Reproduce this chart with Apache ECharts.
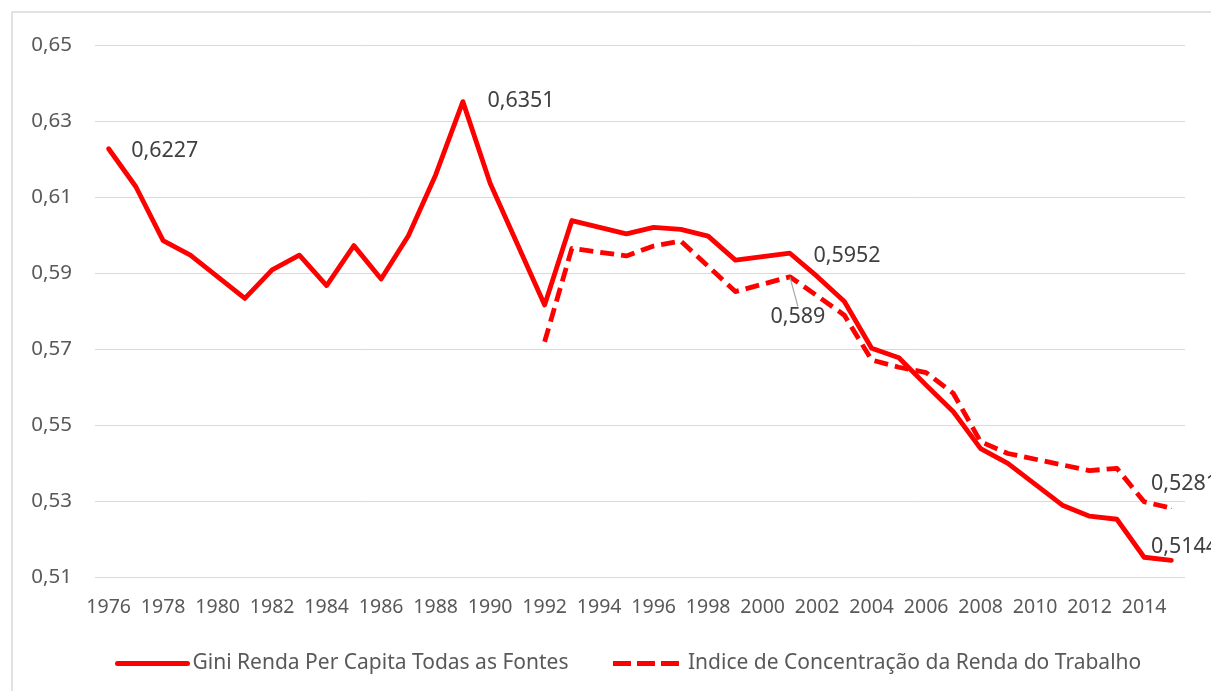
<!DOCTYPE html>
<html>
<head>
<meta charset="utf-8">
<script src="https://cdn.jsdelivr.net/npm/echarts@6/dist/echarts.min.js"></script>
<style>
  html, body { margin: 0; padding: 0; background: #fff; }
  #chart { width: 1211px; height: 691px; }
</style>
</head>
<body>
<div id="chart"></div>
<script>
// anos 1976-2015 (null = ano sem PNAD)
var years = [];
for (var y = 1976; y <= 2015; y++) years.push(String(y));

var giniRenda = [
  0.6227, 0.6127, 0.5985, 0.5947, null, 0.5833, 0.5908, 0.5947, 0.5867, 0.5972,
  0.5884, 0.5998, 0.6158, 0.6351, 0.6136, null, 0.5816, 0.6038, null, 0.6003,
  0.6020, 0.6015, 0.5997, 0.5934, null, 0.5952, 0.5891, 0.5825, 0.5702, 0.5677,
  0.5605, 0.5535, 0.5438, 0.5399, null, 0.5289, 0.5260, 0.5252, 0.5152, 0.5144
];
var indiceTrabalho = [
  null, null, null, null, null, null, null, null, null, null,
  null, null, null, null, null, null, 0.5719, 0.5965, null, 0.5945,
  0.5971, 0.5984, 0.5918, 0.5851, null, 0.5890, 0.5840, 0.5789, 0.5671, 0.5652,
  0.5638, 0.5583, 0.5456, 0.5425, null, 0.5395, 0.5380, 0.5386, 0.5298, 0.5281
];
var yTicks = { min: 0.51, max: 0.65, step: 0.02 };

// pontos com rotulo: [serie, indice]
var labeled = [[0, 0], [0, 13], [0, 25], [0, 39], [1, 25], [1, 39]];
// deslocamento dos rotulos (labelLayout)
var shifts = {
  '0-0': [17, 2], '0-13': [19, -1], '0-25': [18, 3], '0-39': [-26, -13],
  '1-25': [8, 24], '1-39': [-26, -24]
};

function fmt(v) { return String(v).replace('.', ','); }

function buildData(values, s) {
  return values.map(function (v, i) {
    var has = labeled.some(function (l) { return l[0] === s && l[1] === i; });
    if (!has || v === null) return v;
    var item = {
      value: v,
      symbol: 'circle',
      symbolSize: 1,
      label: { show: true, position: s === 1 && i === 25 ? 'bottom' : 'right' }
    };
    if (s === 1 && i === 25) {
      item.labelLine = { show: true, lineStyle: { color: '#a6a6a6', width: 1.2 } };
    }
    return item;
  });
}

var myChart = echarts.init(document.getElementById('chart'));

var txt = '#595959';
var font = 'Noto Sans';

option = {
  backgroundColor: '#fff',
  animation: false,
  graphic: [{
    type: 'rect',
    shape: { x: 12, y: 12, width: 1260, height: 720 },
    style: { fill: 'none', stroke: '#d9d9d9', lineWidth: 1.5 },
    z: -1,
    silent: true
  }],
  grid: { left: 95, right: 26, top: 45, bottom: 114, containLabel: false },
  legend: {
    bottom: 12,
    left: 110,
    itemWidth: 70,
    itemHeight: 10,
    itemGap: 42,
    itemStyle: { opacity: 0 },
    textStyle: { color: txt, fontSize: 21, fontFamily: font },
    data: [
      { name: 'Gini Renda Per Capita Todas as Fontes',
        lineStyle: { width: 5, cap: 'round' } },
      { name: 'Indice de Concentração da Renda do Trabalho',
        lineStyle: { width: 5, type: [18, 6] } }
    ]
  },
  xAxis: {
    type: 'category',
    data: years,
    boundaryGap: true,
    axisLine: { show: false },
    axisTick: { show: false },
    axisLabel: { interval: 1, color: txt, fontSize: 19.5, fontFamily: font, margin: 20 }
  },
  yAxis: {
    type: 'value',
    min: yTicks.min,
    max: yTicks.max,
    interval: yTicks.step,
    axisLine: { show: false },
    axisTick: { show: false },
    axisLabel: {
      color: txt, fontSize: 20.5, fontFamily: font, margin: 23,
      formatter: function (v) { return v.toFixed(2).replace('.', ','); }
    },
    splitLine: { lineStyle: { color: '#d9d9d9', width: 1 } }
  },
  labelLayout: function (p) {
    var d = shifts[p.seriesIndex + '-' + p.dataIndex];
    if (d) return { dx: d[0], dy: d[1] };
  },
  series: [
    {
      name: 'Gini Renda Per Capita Todas as Fontes',
      type: 'line',
      data: buildData(giniRenda, 0),
      connectNulls: true,
      symbol: 'none',
      silent: true,
      lineStyle: { color: '#ff0000', width: 4.8, cap: 'round', join: 'round' },
      itemStyle: { color: '#ff0000' },
      label: {
        color: '#404040', fontSize: 21.5, fontFamily: font,
        formatter: function (p) { return fmt(p.value); }
      }
    },
    {
      name: 'Indice de Concentração da Renda do Trabalho',
      type: 'line',
      data: buildData(indiceTrabalho, 1),
      connectNulls: true,
      symbol: 'none',
      silent: true,
      lineStyle: { color: '#ff0000', width: 4.8, type: [14, 7], join: 'round' },
      itemStyle: { color: '#ff0000' },
      label: {
        color: '#404040', fontSize: 21.5, fontFamily: font,
        formatter: function (p) { return fmt(p.value); }
      }
    }
  ]
};

myChart.setOption(option);
</script>
</body>
</html>
